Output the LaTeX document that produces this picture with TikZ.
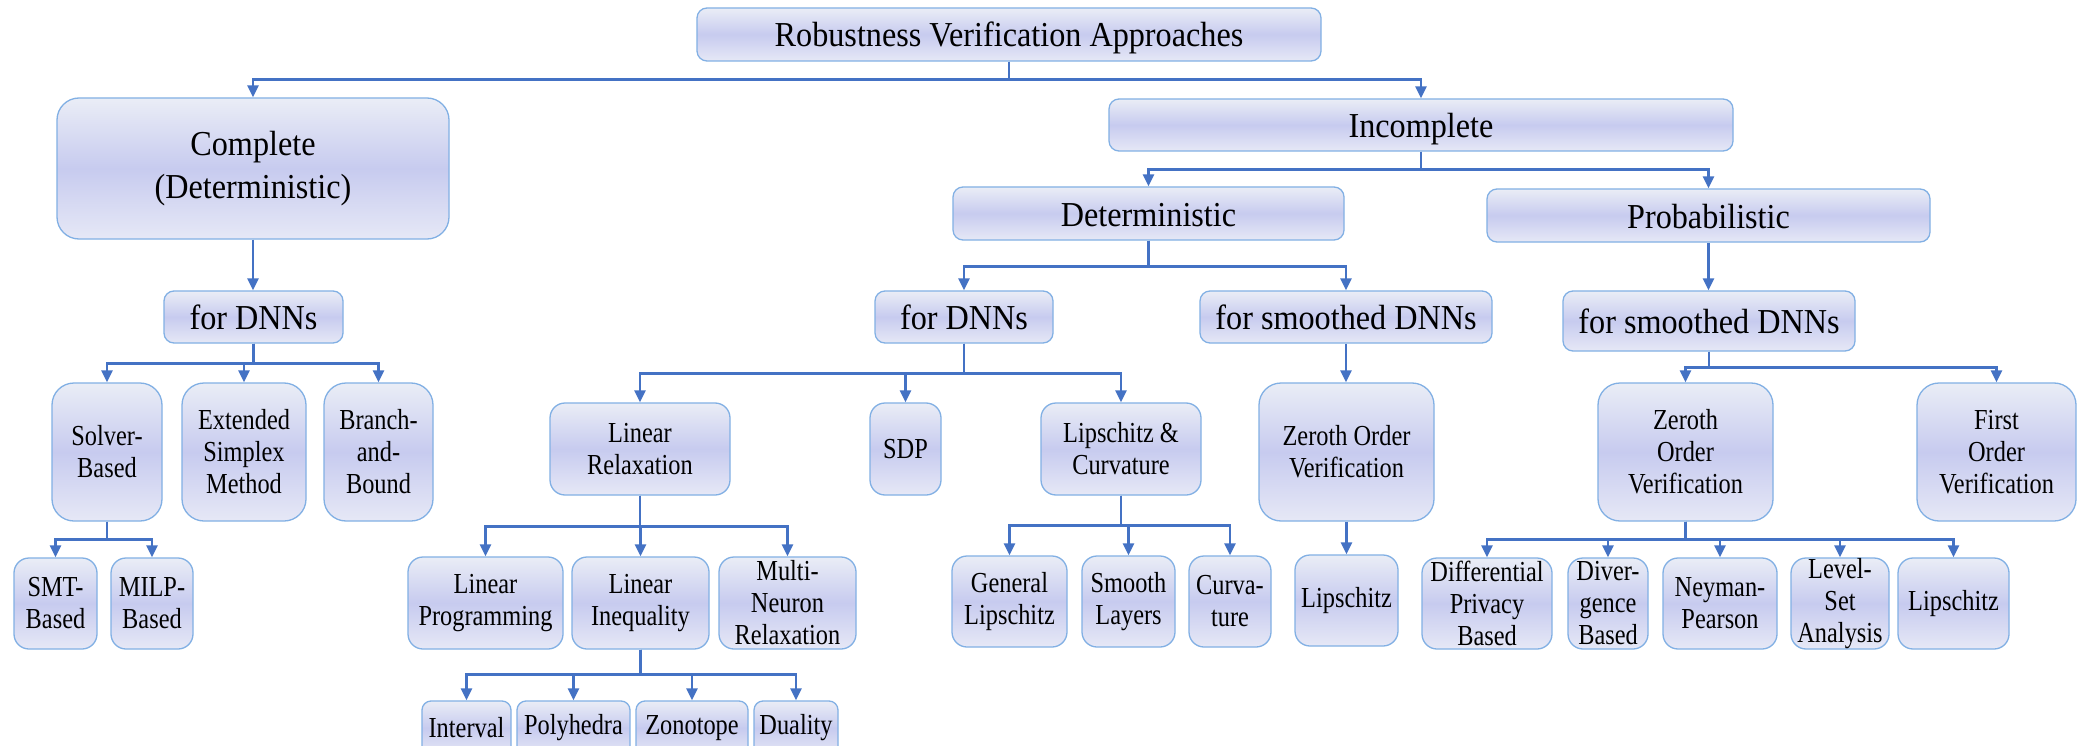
\documentclass[tikz,border=0pt]{standalone}
\usepackage{fontspec}
\setmainfont{Liberation Serif}
\newfontfamily\headfont{Liberation Serif}[FakeStretch=0.92]
\newfontfamily\leaffont{Liberation Serif}[FakeStretch=0.84]
\usetikzlibrary{arrows.meta}

\definecolor{arrowblue}{RGB}{68,114,196}
\definecolor{boxline}{RGB}{130,176,228}
\definecolor{shtop}{RGB}{234,237,246}
\definecolor{shmid}{RGB}{199,203,239}
\definecolor{shbot}{RGB}{230,232,246}

\tikzset{
  box/.style={draw=boxline, line width=1.3pt, top color=shtop, bottom color=shbot,
    middle color=shmid, align=center, inner sep=0pt, text=black},
  big/.style={box, font=\headfont\fontsize{35}{43}\selectfont, rounded corners=10pt},
  bigline/.style={big, text height=25pt, text depth=0pt},
  small/.style={box, font=\leaffont\fontsize{29}{32}\selectfont, rounded corners=15pt},
  tall/.style={small, rounded corners=22pt, minimum height=138pt},
  leaf/.style={small, minimum height=91pt},
  tiny/.style={small, rounded corners=9pt, minimum height=54pt},
  sz/.style args={#1x#2}{minimum width=#1pt, minimum height=#2pt},
  wd/.style={minimum width=#1pt},
  arr/.style={draw=arrowblue, line width=2.5pt, -{Triangle[length=12pt,width=11pt]}},
}

\begin{document}
\begin{tikzpicture}[x=1pt, y=-1pt]
  \fill[white] (0,0) rectangle (2087,746);
  \useasboundingbox (0,0) rectangle (2087,746);

  % top levels
  \node[bigline, sz=624x53] (root) at (1009,34.5) {Robustness Verification Approaches};
  \node[big, rounded corners=22pt, sz=392x141] (complete) at (253,168.5) {Complete\\(Deterministic)};
  \node[bigline, sz=624x52] (incomplete) at (1421,125) {Incomplete};
  \node[bigline, sz=391x53] (det) at (1148.5,213.5) {Deterministic};
  \node[bigline, sz=443x53] (prob) at (1708.5,215.5) {Probabilistic};

  % network classes
  \node[bigline, sz=179x52] (fdl) at (253.5,317) {for DNNs};
  \node[bigline, sz=178x52] (fdm) at (964,317) {for DNNs};
  \node[bigline, sz=292x52] (fsm) at (1346,317) {for smoothed DNNs};
  \node[bigline, sz=292x60] (fsr) at (1709,321) {for smoothed DNNs};

  % complete verifiers
  \node[tall, wd=110] (solver) at (107,452) {Solver-\\Based};
  \node[tall, wd=124] (simplex) at (244,452) {Extended\\Simplex\\Method};
  \node[tall, wd=109] (bnb) at (378.5,452) {Branch-\\and-\\Bound};
  \node[leaf, wd=83] (smt) at (55.5,603.5) {SMT-\\Based};
  \node[leaf, wd=82] (milp) at (152,603.5) {MILP-\\Based};

  % deterministic incomplete verifiers
  \node[small, sz=180x92] (linrel) at (640,449) {Linear\\Relaxation};
  \node[small, sz=71x92] (sdp) at (905.5,449) {SDP};
  \node[small, sz=160x92] (lipcurv) at (1121,449) {Lipschitz \&\\Curvature};
  \node[tall, wd=175] (zovm) at (1346.5,452) {Zeroth Order\\Verification};

  \node[small, sz=155x92] (linprog) at (485.5,603) {Linear\\Programming};
  \node[small, sz=137x92] (lineq) at (640.5,603) {Linear\\Inequality};
  \node[small, sz=137x92] (multi) at (787.5,603) {Multi-\\Neuron\\Relaxation};
  \node[leaf, wd=115] (genlip) at (1009.5,601.5) {General\\Lipschitz};
  \node[leaf, wd=93] (smooth) at (1128.5,601.5) {Smooth\\Layers};
  \node[leaf, wd=82] (curv) at (1230,601.5) {Curva-\\ture};
  \node[leaf, wd=103] (lipm) at (1346.5,600.5) {Lipschitz};

  \node[tiny, wd=89] (interval) at (466.5,728) {Interval};
  \node[tiny, wd=113] (poly) at (573.5,728) {Polyhedra};
  \node[tiny, wd=112] (zono) at (692,728) {Zonotope};
  \node[tiny, wd=84] (dual) at (796,728) {Duality};

  % probabilistic verifiers
  \node[tall, wd=175] (zovr) at (1685.5,452) {Zeroth\\Order\\Verification};
  \node[tall, wd=159] (fov) at (1996.5,452) {First\\Order\\Verification};
  \node[leaf, wd=130] (dp) at (1487,603.5) {Differential\\Privacy\\Based};
  \node[leaf, wd=80] (div) at (1608,603.5) {Diver-\\gence\\Based};
  \node[leaf, wd=114] (np) at (1720,603.5) {Neyman-\\Pearson};
  \node[leaf, wd=98] (lsa) at (1840,603.5) {Level-\\Set\\Analysis};
  \node[leaf, wd=111] (lipr) at (1953.5,603.5) {Lipschitz};

  % connectors
  \foreach \c in {complete,incomplete}
    \draw[arr] (root.south) -- ++(0,18) -| (\c.north);
  \draw[arr] (complete.south) -- (complete.south |- fdl.north);
  \foreach \c in {det,prob}
    \draw[arr] (incomplete.south) -- ++(0,18) -| (\c.north);
  \foreach \c in {fdm,fsm}
    \draw[arr] (det.south) -- ++(0,26) -| (\c.north);
  \draw[arr] (prob.south) -- (prob.south |- fsr.north);

  \foreach \c in {solver,simplex,bnb}
    \draw[arr] (fdl.south) -- ++(0,20) -| (\c.north);
  \foreach \c in {smt,milp}
    \draw[arr] (solver.south) -- ++(0,18) -| (\c.north);

  \foreach \c in {linrel,sdp,lipcurv}
    \draw[arr] (fdm.south) -- ++(0,30) -| (\c.north);
  \foreach \c in {linprog,lineq,multi}
    \draw[arr] (linrel.south) -- ++(0,31) -| (\c.north);
  \foreach \c in {interval,poly,zono,dual}
    \draw[arr] (lineq.south) -- ++(0,25) -| (\c.north);
  \foreach \c in {genlip,smooth,curv}
    \draw[arr] (lipcurv.south) -- ++(0,30) -| (\c.north);

  \draw[arr] (fsm.south) -- (fsm.south |- zovm.north);
  \draw[arr] (zovm.south) -- (zovm.south |- lipm.north);

  \foreach \c in {zovr,fov}
    \draw[arr] (fsr.south) -- ++(0,16) -| (\c.north);
  \foreach \c in {dp,div,np,lsa,lipr}
    \draw[arr] (zovr.south) -- ++(0,18) -| (\c.north);
\end{tikzpicture}
\end{document}
